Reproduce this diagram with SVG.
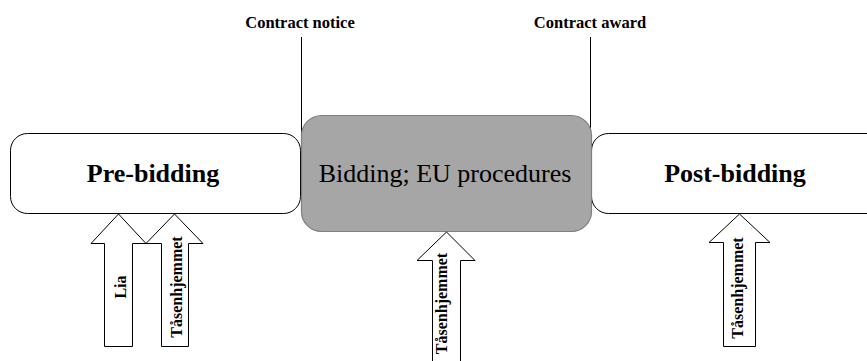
<svg xmlns="http://www.w3.org/2000/svg" width="867" height="361" viewBox="0 0 867 361">
  <style>
    .phase { fill: #ffffff; stroke: #000000; stroke-width: 1; }
    .core { fill: #a6a6a6; stroke: #7f7f7f; stroke-width: 1.2; }
    .arrow { fill: #ffffff; stroke: #000000; stroke-width: 1; }
    .mark { stroke: #000000; stroke-width: 1; fill: none; }
    text { font-family: 'Liberation Serif', 'Times New Roman', serif; fill: #000000; text-anchor: middle; }
    .big { font-size: 26px; }
    .b { font-weight: bold; }
    .small { font-size: 16px; font-weight: bold; }
    .milestone { font-size: 16.5px; font-weight: bold; }
  </style>
  <rect width="867" height="361" fill="#ffffff"/>

  <g id="milestones">
    <line class="mark" x1="301.5" y1="37" x2="301.5" y2="175"/>
    <line class="mark" x1="590.5" y1="37" x2="590.5" y2="175"/>
    <text class="milestone" x="300" y="28">Contract notice</text>
    <text class="milestone" x="590" y="28">Contract award</text>
  </g>

  <g id="pre-bidding">
    <rect class="phase" x="10.5" y="133.5" width="290" height="80" rx="17"/>
    <text class="big b" x="153" y="182">Pre-bidding</text>
  </g>

  <g id="post-bidding">
    <rect class="phase" x="591.5" y="133.5" width="300" height="80" rx="17"/>
    <text class="big b" x="735" y="182">Post-bidding</text>
  </g>

  <g id="bidding">
    <rect class="core" x="301.5" y="115.5" width="290" height="116" rx="20"/>
    <text class="big" x="445" y="182">Bidding; EU procedures</text>
  </g>

  <g id="connectors">
    <g id="lia">
      <path class="arrow" d="M104.5,346.5 V243.5 H91 L118.5,214 L146,243.5 H132.5 V346.5 Z"/>
      <text class="small" transform="translate(126,287) rotate(-90)">Lia</text>
    </g>
    <g id="tasenhjemmet-pre">
      <path class="arrow" d="M161.5,346.5 V243.5 H146 L174.5,214 L203,243.5 H188.5 V346.5 Z"/>
      <text class="small" transform="translate(182,287) rotate(-90)">Tåsenhjemmet</text>
    </g>
    <g id="tasenhjemmet-bid">
      <path class="arrow" d="M432.5,362 V260.5 H417 L446.5,232 L475,260.5 H460.5 V362 Z"/>
      <text class="small" transform="translate(447,303.5) rotate(-90)">Tåsenhjemmet</text>
    </g>
    <g id="tasenhjemmet-post">
      <path class="arrow" d="M723.5,346.5 V242.5 H709 L739.5,214 L770,242.5 H755.5 V346.5 Z"/>
      <text class="small" transform="translate(743,288) rotate(-90)">Tåsenhjemmet</text>
    </g>
  </g>
</svg>
